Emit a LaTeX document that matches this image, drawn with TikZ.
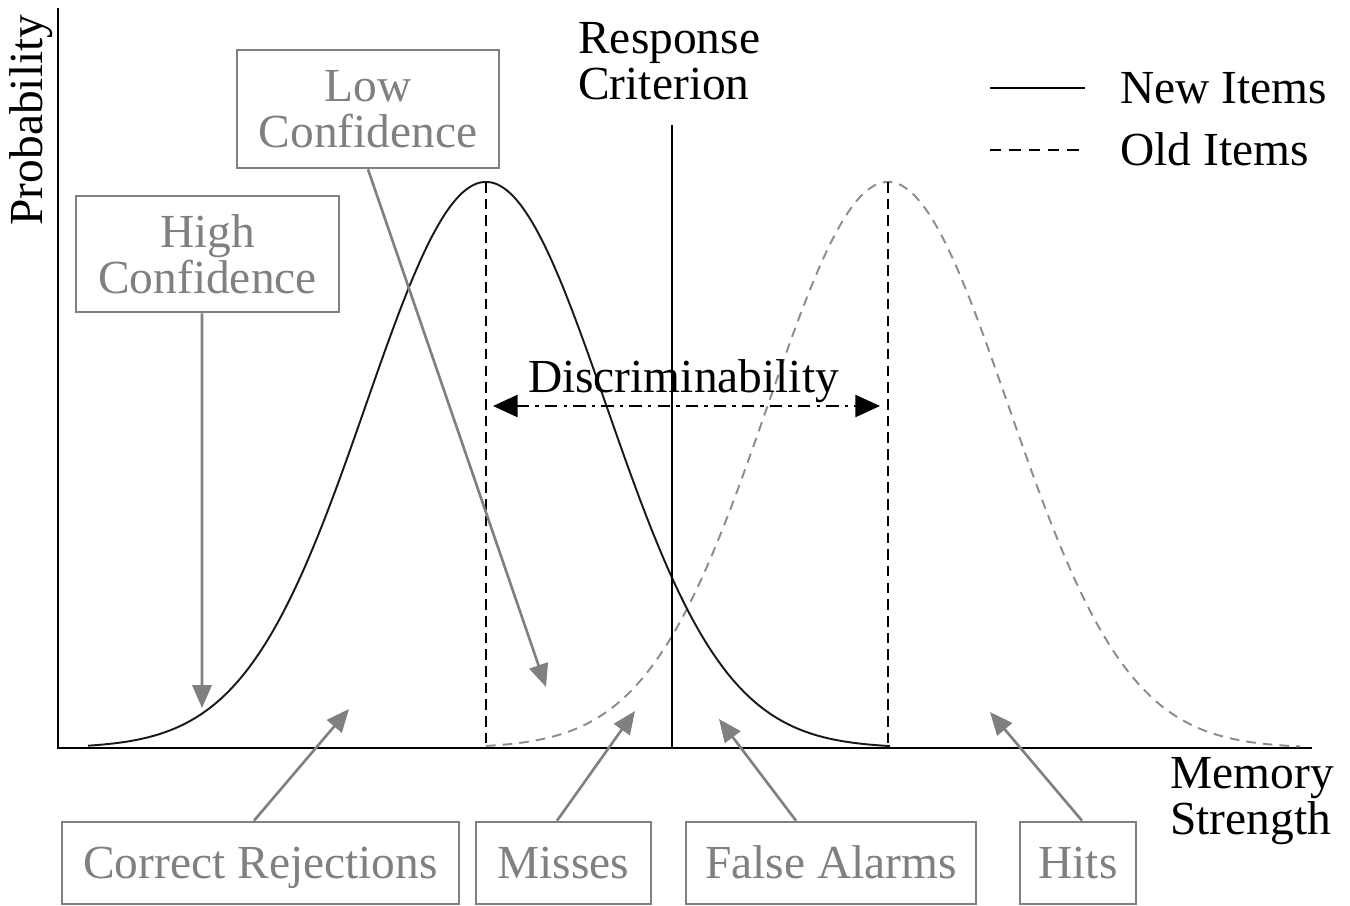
\documentclass[tikz,border=0pt]{standalone}
\usepackage{fontspec}
\setmainfont{Liberation Serif}
\usetikzlibrary{arrows.meta,calc}
\definecolor{labgray}{HTML}{808080}
\definecolor{curvegray}{HTML}{8C8C8C}
\begin{document}
\begin{tikzpicture}[x=0.02cm,y=-0.02cm,
  every node/.style={font=\fontsize{27}{26}\selectfont, inner sep=0pt},
  capline/.style={text height=18pt, text depth=0pt},
  labelbox/.style={draw=labgray, line width=1.5pt, text=labgray, align=center},
  onebox/.style={labelbox, capline, minimum height=1.64cm},
  pointer/.style={draw=labgray, line width=1.5pt, -{Triangle[length=13pt,width=11pt]}},
  axisline/.style={line width=1.6pt, black},
  newcurve/.style={line width=1.1pt, black!90},
  oldcurve/.style={line width=1.1pt, curvegray, dash pattern=on 5.5pt off 4pt},
  peakline/.style={line width=1.4pt, black, dash pattern=on 6pt off 3.5pt},
  discarrow/.style={line width=1.4pt, black, dash pattern=on 7pt off 3.5pt on 2pt off 3.5pt,
     {Triangle[length=14pt,width=12.5pt]}-{Triangle[length=14pt,width=12.5pt]}}]
\useasboundingbox (0,0) rectangle (1350,906);

% axes
\draw[axisline] (58,8) -- (58,748) -- (1312,748);

% distributions
\draw[oldcurve] plot[domain=486:1300, samples=160, smooth] (\x, {748-566*exp(-((\x-888)/120)^2/2)});
\draw[newcurve] plot[domain=88:890, samples=160, smooth] (\x, {748-566*exp(-((\x-486)/120)^2/2)});

% peak lines and criterion
\draw[peakline] (486,182) -- (486,748);
\draw[peakline] (888,182) -- (888,748);
\draw[line width=1.2pt, black] (672,125) -- (672,748);

% discriminability
\coordinate (dL) at (493,406);
\coordinate (dR) at (880,406);
\draw[discarrow] (dL) -- (dR);
\node[capline] (disc) at (683.5,377) {Discriminability};

% titles
\node[align=left, anchor=west] (crit) at (578,61.5) {Response\\Criterion};
\node[align=left, anchor=west] (mem) at (1170,801) {Memory\\Strength};
\node[rotate=90] (prob) at (31,120) {Probability};

% legend
\coordinate (ln1a) at (990,88);
\coordinate (ln1b) at (1085,88);
\coordinate (ln2a) at (990,150);
\coordinate (ln2b) at (1085,150);
\draw[line width=1.2pt, black] (ln1a) -- (ln1b);
\draw[line width=1.2pt, black, dash pattern=on 6.5pt off 4.5pt] (ln2a) -- (ln2b);
\node[capline, anchor=west] (lnew) at (1120,88) {New Items};
\node[capline, anchor=west] (lold) at (1120,150) {Old Items};

% label boxes
\node[labelbox, minimum width=5.24cm, minimum height=2.36cm] (low) at (368,109) {Low\\Confidence};
\node[labelbox, minimum width=5.26cm, minimum height=2.32cm] (high) at (207.5,254) {High\\Confidence};
\node[onebox, minimum width=7.94cm] (cr) at (260.5,863) {Correct Rejections};
\node[onebox, minimum width=3.5cm] (miss) at (563.5,863) {Misses};
\node[onebox, minimum width=5.8cm] (fa) at (831,863) {False Alarms};
\node[onebox, minimum width=2.32cm] (hits) at (1078,863) {Hits};

% pointer tips
\coordinate (tHigh) at (202,708);
\coordinate (tLow) at (546,687);
\coordinate (tCR) at (349,709);
\coordinate (tMiss) at (635,711);
\coordinate (tFA) at (719,719);
\coordinate (tHit) at (990,712);

\draw[pointer] ([xshift=-0.11cm]high.south) -- (tHigh);
\draw[pointer] (low.south) -- (tLow);
\draw[pointer] ([xshift=-0.13cm]cr.north) -- (tCR);
\draw[pointer] ([xshift=-0.13cm]miss.north) -- (tMiss);
\draw[pointer] ([xshift=-0.7cm]fa.north) -- (tFA);
\draw[pointer] ([xshift=0.08cm]hits.north) -- (tHit);
\end{tikzpicture}
\end{document}
